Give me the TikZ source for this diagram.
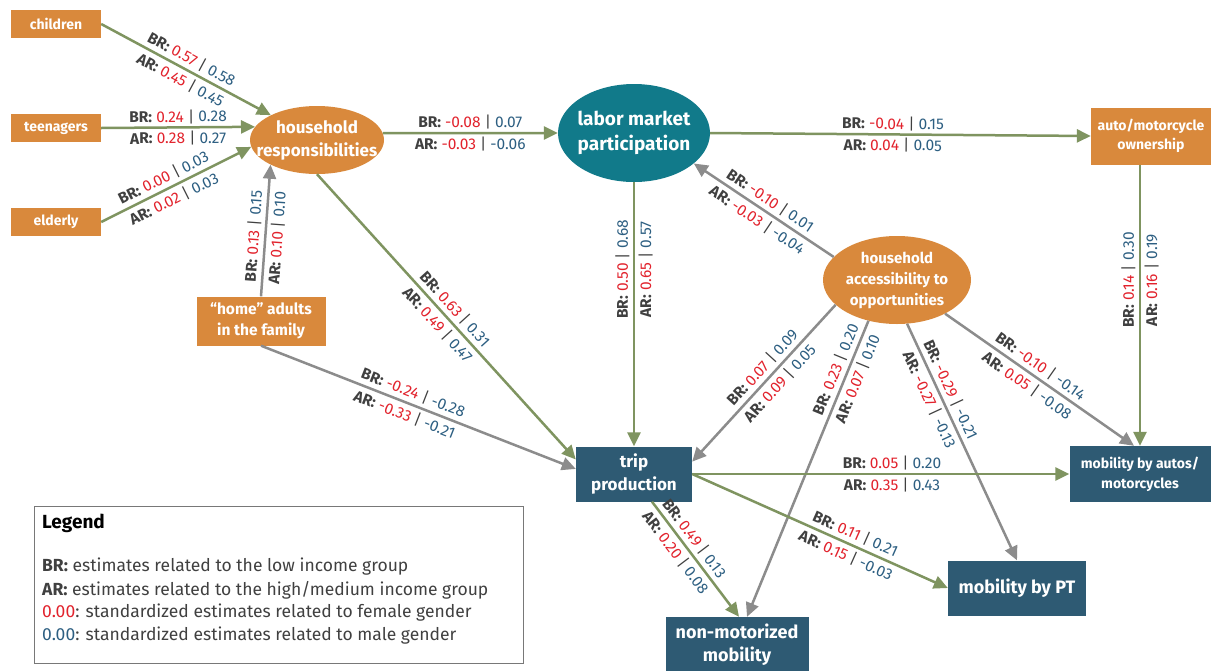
\documentclass[tikz,border=0pt]{standalone}
\usepackage{fontspec}
\setmainfont{Fira Sans}
\usetikzlibrary{arrows.meta,shapes.geometric}
\definecolor{corange}{RGB}{217,137,60}
\definecolor{cteal}{RGB}{17,122,138}
\definecolor{cnavy}{RGB}{46,90,115}
\definecolor{cgreen}{RGB}{127,148,96}
\definecolor{cgray}{RGB}{140,140,140}
\definecolor{cred}{RGB}{226,35,45}
\definecolor{cblue}{RGB}{45,95,130}
\definecolor{ctext}{RGB}{64,64,64}
\definecolor{cframe}{RGB}{120,120,120}
\newcommand{\lbr}[2]{{\bfseries BR:} \textcolor{cred}{#1} | \textcolor{cblue}{#2}}
\newcommand{\lar}[2]{{\bfseries AR:} \textcolor{cred}{#1} | \textcolor{cblue}{#2}}
\begin{document}
\begin{tikzpicture}[x=1pt,y=-1pt,
  obox/.style={rectangle, fill=corange, text=white, align=center, inner sep=0pt},
  nbox/.style={rectangle, fill=cnavy, text=white, align=center, inner sep=0pt},
  oell/.style={ellipse, fill=corange, text=white, align=center, inner xsep=-40pt, inner ysep=-20pt},
  tell/.style={ellipse, fill=cteal, text=white, align=center, inner xsep=-40pt, inner ysep=-20pt},
  garr/.style={draw=cgreen, line width=2.5pt, -{Triangle[length=14pt,width=13pt]}},
  yarr/.style={draw=cgray, line width=2.5pt, -{Triangle[length=14pt,width=13pt]}},
  lab/.style={font=\fontsize{15.5}{17}\selectfont, text=ctext, inner sep=1.5pt},
  legtxt/.style={font=\fontsize{17.5}{20}\selectfont, text=ctext, inner sep=0pt, anchor=west},
]
\useasboundingbox (0,0) rectangle (1211,670);
\fill[white] (0,0) rectangle (1211,670);

% nodes
\node[obox, minimum width=90pt, minimum height=28pt, font=\bfseries\fontsize{14}{16}\selectfont] (children) at (56,24) {children};
\node[obox, minimum width=90pt, minimum height=28pt, font=\bfseries\fontsize{14}{16}\selectfont] (teen) at (56,128) {teenagers};
\node[obox, minimum width=90pt, minimum height=28pt, font=\bfseries\fontsize{14}{16}\selectfont] (elderly) at (56,222) {elderly};
\node[oell, minimum width=134pt, minimum height=68pt, font=\bfseries\fontsize{17}{23}\selectfont] (hr) at (317,140) {household\\responsibilities};
\node[tell, minimum width=152pt, minimum height=98pt, font=\bfseries\fontsize{19}{25}\selectfont] (labor) at (634,133) {labor market\\participation};
\node[obox, minimum width=120pt, minimum height=57pt, font=\bfseries\fontsize{14}{19}\selectfont] (owner) at (1151,136) {auto/motorcycle\\ownership};
\node[oell, minimum width=148pt, minimum height=88pt, font=\bfseries\fontsize{15}{21}\selectfont] (acc) at (897,280) {household\\accessibility to\\opportunities};
\node[obox, minimum width=129pt, minimum height=49pt, font=\bfseries\fontsize{15.5}{21}\selectfont] (home) at (261,321) {“home” adults\\in the family};
\node[nbox, minimum width=116pt, minimum height=55pt, font=\bfseries\fontsize{17}{23}\selectfont] (trip) at (634,474) {trip\\production};
\node[nbox, minimum width=141pt, minimum height=56pt, font=\bfseries\fontsize{14}{20}\selectfont] (autos) at (1140,474) {mobility by autos/\\motorcycles};
\node[nbox, minimum width=138pt, minimum height=55pt, font=\bfseries\fontsize{18}{22}\selectfont] (pt) at (1017,588) {mobility by PT};
\node[nbox, minimum width=143pt, minimum height=56pt, font=\bfseries\fontsize{18}{23}\selectfont] (nonmot) at (737,645) {non-motorized\\mobility};

% connectors
\draw[garr] (children.east) -- (hr)
  node[lab, sloped, pos=0.5, above=2pt] {\lbr{0.57}{0.58}}
  node[lab, sloped, pos=0.5, below=2pt] {\lar{0.45}{0.45}};
\draw[garr] (teen.east) -- (hr.168)
  node[lab, sloped, pos=0.5, above=1pt] {\lbr{0.24}{0.28}}
  node[lab, sloped, pos=0.5, below=1pt] {\lar{0.28}{0.27}};
\draw[garr] (elderly.east) -- (hr.186)
  node[lab, sloped, pos=0.45, above=2pt] {\lbr{0.00}{0.03}}
  node[lab, sloped, pos=0.45, below=2pt] {\lar{0.02}{0.03}};
\draw[yarr] (home.north) -- (hr.208)
  node[lab, sloped, pos=0.45, above=2pt] {\lbr{0.13}{0.15}}
  node[lab, sloped, pos=0.45, below=2pt] {\lar{0.10}{0.10}};
\draw[garr] (hr.6) -- (labor.west)
  node[lab, sloped, pos=0.5, above=1pt] {\lbr{-0.08}{0.07}}
  node[lab, sloped, pos=0.5, below=1pt] {\lar{-0.03}{-0.06}};
\draw[garr] (labor.east) -- (owner.west)
  node[lab, sloped, pos=0.48, above=1pt] {\lbr{-0.04}{0.15}}
  node[lab, sloped, pos=0.48, below=1pt] {\lar{0.04}{0.05}};
\draw[garr] (hr.south) -- (trip.166)
  node[lab, sloped, pos=0.5, above=2pt] {\lbr{0.63}{0.31}}
  node[lab, sloped, pos=0.5, below=2pt] {\lar{0.49}{0.47}};
\draw[yarr] (home.south) -- (trip.175)
  node[lab, sloped, pos=0.47, above=2pt] {\lbr{-0.24}{-0.28}}
  node[lab, sloped, pos=0.47, below=2pt] {\lar{-0.33}{-0.21}};
\draw[garr] (labor.south) -- (trip.north)
  node[lab, rotate=90, pos=0.33, anchor=south, outer sep=3pt] {\lbr{0.50}{0.68}}
  node[lab, rotate=90, pos=0.33, anchor=north, outer sep=3pt] {\lar{0.65}{0.57}};
\draw[yarr] (acc.160) -- (labor.333)
  node[lab, sloped, pos=0.5, above=2pt] {\lbr{-0.10}{0.01}}
  node[lab, sloped, pos=0.5, below=2pt] {\lar{-0.03}{-0.04}};
\draw[yarr] (acc.202) -- (trip.12)
  node[lab, sloped, pos=0.45, above=2pt] {\lbr{0.07}{0.09}}
  node[lab, sloped, pos=0.45, below=2pt] {\lar{0.09}{0.05}};
\draw[yarr] (acc.235) -- ([xshift=10pt]nonmot.north)
  node[lab, sloped, pos=0.18, above=2pt] {\lbr{0.23}{0.20}}
  node[lab, sloped, pos=0.18, below=2pt] {\lar{0.07}{0.10}};
\draw[yarr] (acc.283) -- (pt.north)
  node[lab, sloped, pos=0.3, above=2pt] {\lbr{-0.29}{-0.21}}
  node[lab, sloped, pos=0.3, below=2pt] {\lar{-0.27}{-0.13}};
\draw[yarr] (acc.325) -- ([xshift=-6pt]autos.north)
  node[lab, sloped, pos=0.47, above=2pt] {\lbr{-0.10}{-0.14}}
  node[lab, sloped, pos=0.47, below=2pt] {\lar{0.05}{-0.08}};
\draw[garr] (owner.south -| autos.north) -- (autos.north)
  node[lab, rotate=90, pos=0.41, anchor=south, outer sep=3pt] {\lbr{0.14}{0.30}}
  node[lab, rotate=90, pos=0.41, anchor=north, outer sep=3pt] {\lar{0.16}{0.19}};
\draw[garr] (trip.east) -- (autos.west)
  node[lab, sloped, pos=0.53, above=1pt] {\lbr{0.05}{0.20}}
  node[lab, sloped, pos=0.53, below=1pt] {\lar{0.35}{0.43}};
\draw[garr] (trip.east) -- (pt.west)
  node[lab, sloped, pos=0.62, above=2pt] {\lbr{0.11}{0.21}}
  node[lab, sloped, pos=0.62, below=2pt] {\lar{0.15}{-0.03}};
\draw[garr] ([xshift=18pt]trip.south) -- ([xshift=2pt]nonmot.north)
  node[lab, sloped, pos=0.38, above=2pt] {\lbr{0.49}{0.13}}
  node[lab, sloped, pos=0.38, below=2pt] {\lar{0.20}{0.08}};

% legend
\node[draw=cframe, line width=1pt, minimum width=489pt, minimum height=157pt, inner sep=0pt] (legend) at (278.5,584.5) {};
\node[anchor=west, inner sep=0pt, font=\bfseries\fontsize{19}{22}\selectfont] (legtitle) at (42,523) {Legend};
\node[legtxt] (leg1) at (42,567) {{\bfseries BR:} estimates related to the low income group};
\node[legtxt] (leg2) at (42,590) {{\bfseries AR:} estimates related to the high/medium income group};
\node[legtxt] (leg3) at (42,613) {\textcolor{cred}{0.00}: standardized estimates related to female gender};
\node[legtxt] (leg4) at (42,636) {\textcolor{cblue}{0.00}: standardized estimates related to male gender};
\end{tikzpicture}
\end{document}
